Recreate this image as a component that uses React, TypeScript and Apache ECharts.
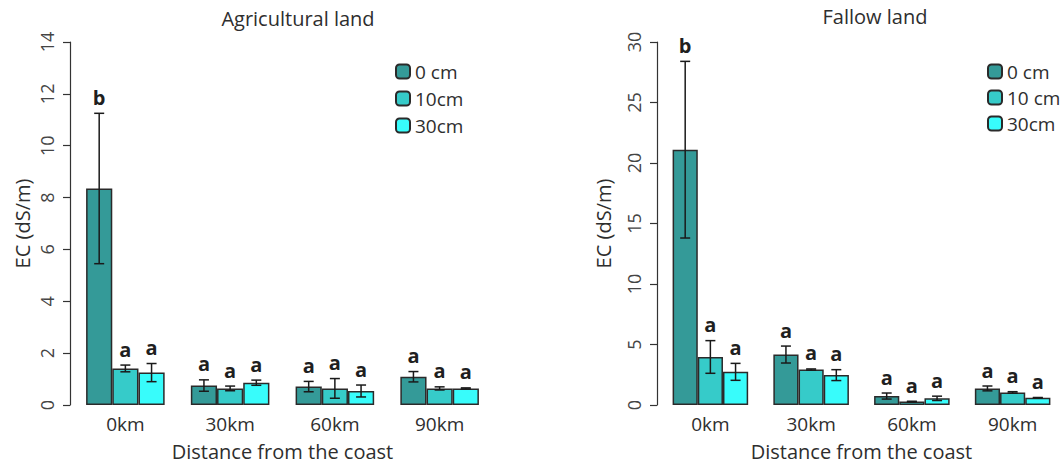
import React, { useEffect, useRef } from "react";
import * as echarts from "echarts";

const categories = ["0km", "30km", "60km", "90km"];
const depthsAgri = ["0 cm", "10cm", "30cm"];
const depthsFallow = ["0 cm", "10 cm", "30cm"];

const agri0 = [8.35, 0.75, 0.71, 1.09];
const agri0Err = [2.9, 0.22, 0.2, 0.2];
const agri10 = [1.41, 0.64, 0.64, 0.64];
const agri10Err = [0.13, 0.09, 0.38, 0.06];
const agri30 = [1.25, 0.86, 0.54, 0.64];
const agri30Err = [0.35, 0.1, 0.23, 0.02];
const agriLetters0 = ["b", "a", "a", "a"];
const agriLetters10 = ["a", "a", "a", "a"];
const agriLetters30 = ["a", "a", "a", "a"];

const fallow0 = [21.1, 4.17, 0.74, 1.37];
const fallow0Err = [7.3, 0.7, 0.25, 0.2];
const fallow10 = [3.97, 2.93, 0.28, 1.04];
const fallow10Err = [1.35, 0.05, 0.03, 0.06];
const fallow30 = [2.74, 2.47, 0.55, 0.6];
const fallow30Err = [0.7, 0.45, 0.18, 0.02];
const fallowLetters0 = ["b", "a", "a", "a"];
const fallowLetters10 = ["a", "a", "a", "a"];
const fallowLetters30 = ["a", "a", "a", "a"];

const COLORS = ["#349a98", "#36cbc9", "#38fcfb"];
const FONT = "'Open Sans', 'Noto Sans', sans-serif";
const TEXT = "#2e2e2e";

function buildErr(means: number[][], errs: number[][], letters: string[][]) {
  const out: any[] = [];
  for (let d = 0; d < means.length; d++) {
    for (let c = 0; c < means[d].length; c++) {
      out.push({ value: [c, d, means[d][c], errs[d][c]], letter: letters[d][c] });
    }
  }
  return out;
}

function errRender(dataArr: any[]) {
  return (params: any, api: any) => {
    const cat = api.value(0);
    const depth = api.value(1);
    const mean = api.value(2);
    const err = api.value(3);
    const band = api.size([1, 0])[0];
    const x = api.coord([cat, 0])[0] + (depth - 1) * band * 0.25;
    const yTop = api.coord([cat, mean + err])[1];
    const yBot = api.coord([cat, Math.max(mean - err, 0)])[1];
    const cap = 5;
    const ls = { stroke: "#1a1a1a", lineWidth: 1.5 };
    const letter = dataArr[params.dataIndex].letter;
    return {
      type: "group",
      children: [
        { type: "line", shape: { x1: x, y1: yTop, x2: x, y2: yBot }, style: ls },
        { type: "line", shape: { x1: x - cap, y1: yTop, x2: x + cap, y2: yTop }, style: ls },
        { type: "line", shape: { x1: x - cap, y1: yBot, x2: x + cap, y2: yBot }, style: ls },
        {
          type: "text",
          style: {
            text: letter,
            x: x,
            y: yTop - 16,
            align: "center",
            verticalAlign: "middle",
            fontSize: 20,
            fontWeight: "bold",
            fontFamily: FONT,
            fill: "#1f1f1f",
          },
        },
      ],
    };
  };
}

export default function App() {
  const ref = useRef<HTMLDivElement>(null);
  useEffect(() => {
    document.body.style.margin = "0";
    const chart = echarts.init(ref.current!, null, { renderer: "svg" });
    const agriErr = buildErr([agri0, agri10, agri30], [agri0Err, agri10Err, agri30Err], [agriLetters0, agriLetters10, agriLetters30]);
    const fallowErr = buildErr([fallow0, fallow10, fallow30], [fallow0Err, fallow10Err, fallow30Err], [fallowLetters0, fallowLetters10, fallowLetters30]);

    const barStyle = (i: number) => ({ color: COLORS[i], borderColor: "#2a2a2a", borderWidth: 1.5 });

    const yAxisBase = (max: number, interval: number, gridIndex: number, gap: number) => ({
      type: "value",
      gridIndex,
      min: 0,
      max,
      interval,
      offset: 3,
      splitLine: { show: false },
      axisLine: { show: true, lineStyle: { color: "#333", width: 1.2 } },
      axisTick: { show: true, length: 7, lineStyle: { color: "#333", width: 1.2 } },
      axisLabel: { rotate: 90, fontSize: 18, fontFamily: FONT, color: "#444", margin: 14 },
      name: "EC (dS/m)",
      nameLocation: "middle",
      nameGap: gap,
      nameTextStyle: { fontSize: 20, fontFamily: FONT, color: TEXT },
    });
    const xAxisBase = (gridIndex: number) => ({
      type: "category",
      gridIndex,
      data: categories,
      axisLine: { show: false },
      axisTick: { show: false },
      axisLabel: { fontSize: 19, fontFamily: FONT, color: TEXT, margin: 9 },
      name: "Distance from the coast",
      nameLocation: "middle",
      nameGap: 36,
      nameTextStyle: { fontSize: 20, fontFamily: FONT, color: TEXT },
    });

    const option: any = {
      animation: false,
      backgroundColor: "#ffffff",
      graphic: [
        {
          type: "text",
          x: 298,
          y: 18,
          style: { text: "Agricultural land", align: "center", verticalAlign: "middle", fontSize: 20, fontFamily: FONT, fill: TEXT },
        },
        {
          type: "text",
          x: 875,
          y: 16,
          style: { text: "Fallow land", align: "center", verticalAlign: "middle", fontSize: 20, fontFamily: FONT, fill: TEXT },
        },
      ],
      legend: [
        {
          data: depthsAgri,
          orient: "vertical",
          left: 390,
          top: 57,
          itemWidth: 14,
          itemHeight: 14,
          itemGap: 8,
          textStyle: { fontSize: 19, fontFamily: FONT, color: TEXT },
        },
        {
          data: depthsFallow,
          orient: "vertical",
          left: 982,
          top: 57,
          itemWidth: 14,
          itemHeight: 14,
          itemGap: 7,
          textStyle: { fontSize: 19, fontFamily: FONT, color: TEXT },
        },
      ],
      grid: [
        { left: 73, width: 419, top: 42, bottom: 59 },
        { left: 660, width: 424, top: 42, bottom: 59 },
      ],
      xAxis: [xAxisBase(0), xAxisBase(1)],
      yAxis: [yAxisBase(14, 2, 0, 38), yAxisBase(30, 5, 1, 44)],
      series: [
        { type: "bar", name: depthsAgri[0], xAxisIndex: 0, yAxisIndex: 0, data: agri0, itemStyle: barStyle(0), barGap: "0%", barCategoryGap: "25%" },
        { type: "bar", name: depthsAgri[1], xAxisIndex: 0, yAxisIndex: 0, data: agri10, itemStyle: barStyle(1), barGap: "0%", barCategoryGap: "25%" },
        { type: "bar", name: depthsAgri[2], xAxisIndex: 0, yAxisIndex: 0, data: agri30, itemStyle: barStyle(2), barGap: "0%", barCategoryGap: "25%" },
        { type: "bar", name: depthsFallow[0], xAxisIndex: 1, yAxisIndex: 1, data: fallow0, itemStyle: barStyle(0), barGap: "0%", barCategoryGap: "25%" },
        { type: "bar", name: depthsFallow[1], xAxisIndex: 1, yAxisIndex: 1, data: fallow10, itemStyle: barStyle(1), barGap: "0%", barCategoryGap: "25%" },
        { type: "bar", name: depthsFallow[2], xAxisIndex: 1, yAxisIndex: 1, data: fallow30, itemStyle: barStyle(2), barGap: "0%", barCategoryGap: "25%" },
        {
          type: "custom",
          name: "errAgri",
          xAxisIndex: 0,
          yAxisIndex: 0,
          data: agriErr,
          renderItem: errRender(agriErr),
          clip: false,
          z: 5,
        },
        {
          type: "custom",
          name: "errFallow",
          xAxisIndex: 1,
          yAxisIndex: 1,
          data: fallowErr,
          renderItem: errRender(fallowErr),
          clip: false,
          z: 5,
        },
      ],
    };
    chart.setOption(option);
    return () => chart.dispose();
  }, []);
  return <div ref={ref} style={{ position: "fixed", left: 0, top: 0, width: 1063, height: 466 }} />;
}
